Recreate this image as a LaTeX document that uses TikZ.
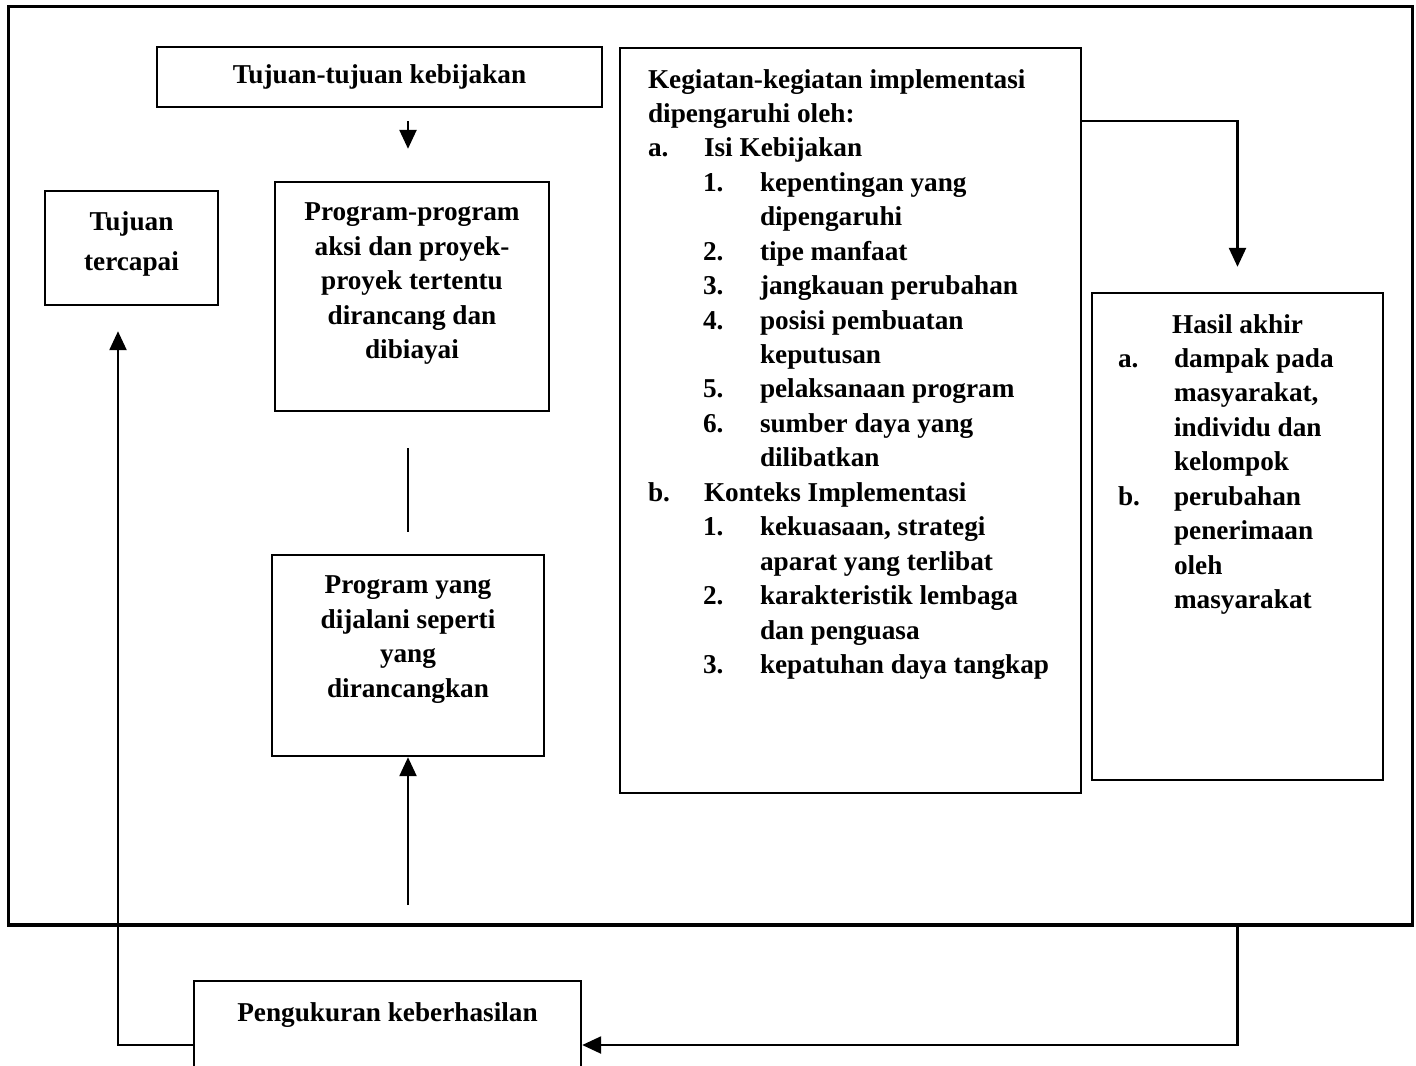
\documentclass[tikz,border=0pt]{standalone}
\usepackage{fontspec}
\setmainfont{Liberation Serif}
\usetikzlibrary{arrows.meta}
\newcommand{\boxtext}[3]{\parbox[c][#2][t]{#1}{\vspace*{12pt}#3}}
\newcommand{\lbl}[2]{\makebox[1.12cm][l]{#1}#2}
\newcommand{\sublbl}[2]{\hspace*{1.1cm}\makebox[1.14cm][l]{#1}#2}
\begin{document}
\begin{tikzpicture}[x=0.02cm, y=-0.02cm, font=\fontsize{15.5pt}{19.6pt}\selectfont\bfseries,
  box/.style={draw, line width=1.4pt, inner sep=0pt},
  arr/.style={-{Triangle[length=0.38cm,width=0.34cm]}, line width=1.4pt},
  link/.style={line width=1.4pt}]
\clip (0,0) rectangle (1416,1065);
\node[box, line width=1.8pt, minimum width=28.1cm, minimum height=18.38cm] (f) at (710.5,465.5) {};
\node[box, minimum width=8.9cm, minimum height=1.2cm] (k) at (379.5,77) {Tujuan-tujuan kebijakan};
\node[box] (c) at (131.5,248) {\boxtext{3.46cm}{2.28cm}{\centering Tujuan\\[3pt] tercapai}};
\node[box] (p) at (412,296.5) {\boxtext{5.48cm}{4.58cm}{\centering Program-program\\ aksi dan proyek-\\ proyek tertentu\\ dirancang dan\\ dibiayai}};
\node[box] (j) at (408,655.5) {\boxtext{5.44cm}{4.02cm}{\centering Program yang\\ dijalani seperti\\ yang\\ dirancangkan}};
\node[box] (g) at (850.5,420.5) {\boxtext{9.22cm}{14.9cm}{\leftskip=0.56cm
  Kegiatan-kegiatan implementasi\\
  dipengaruhi oleh:\\
  \lbl{a.}{Isi Kebijakan}\\
  \sublbl{1.}{kepentingan yang}\\
  \hspace*{2.24cm}dipengaruhi\\
  \sublbl{2.}{tipe manfaat}\\
  \sublbl{3.}{jangkauan perubahan}\\
  \sublbl{4.}{posisi pembuatan}\\
  \hspace*{2.24cm}keputusan\\
  \sublbl{5.}{pelaksanaan program}\\
  \sublbl{6.}{sumber daya yang}\\
  \hspace*{2.24cm}dilibatkan\\
  \lbl{b.}{Konteks Implementasi}\\
  \sublbl{1.}{kekuasaan, strategi}\\
  \hspace*{2.24cm}aparat yang terlibat\\
  \sublbl{2.}{karakteristik lembaga}\\
  \hspace*{2.24cm}dan penguasa\\
  \sublbl{3.}{kepatuhan daya tangkap}}};
\node[box] (h) at (1237.5,536.5) {\boxtext{5.82cm}{9.74cm}{\leftskip=0.52cm
  {\centering Hasil akhir\par}
  \lbl{a.}{dampak pada}\\
  \hspace*{1.12cm}masyarakat,\\
  \hspace*{1.12cm}individu dan\\
  \hspace*{1.12cm}kelompok\\
  \lbl{b.}{perubahan}\\
  \hspace*{1.12cm}penerimaan\\
  \hspace*{1.12cm}oleh\\
  \hspace*{1.12cm}masyarakat}};
\node[box] (u) at (387.5,1045) {\boxtext{7.74cm}{2.56cm}{\centering Pengukuran keberhasilan}};
\coordinate (b) at (408,905);

\draw[arr, shorten <=0.26cm, shorten >=0.64cm] (k.south -| j) -- (p.north -| j);
\draw[link, shorten <=0.72cm, shorten >=0.44cm] (p.south -| j) -- (j.north);
\draw[arr] (b) -- (j);
\draw[arr, shorten >=0.5cm] ([yshift=-1.48cm]g.north east) -| (h.north);
\draw[arr] (h.south |- f.south) |- (u.east);
\draw[arr, shorten >=0.5cm] (u.west) -| ([xshift=-0.27cm]c.south);
\end{tikzpicture}
\end{document}
